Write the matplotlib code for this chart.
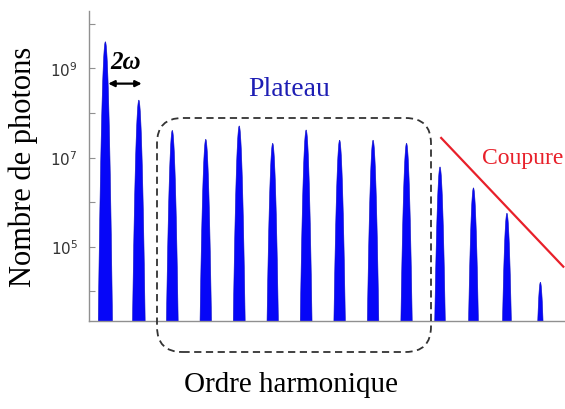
import numpy as np
import matplotlib
matplotlib.use("Agg")
import matplotlib.pyplot as plt
from matplotlib.patches import FancyBboxPatch

# Donnees : ordres harmoniques impairs et log10 du nombre de photons
ordres = [1, 3, 5, 7, 9, 11, 13, 15, 17, 19, 21, 23, 25, 27]
log_photons = [9.61, 8.30, 7.62, 7.42, 7.72, 7.33, 7.63, 7.40, 7.40, 7.33, 6.80, 6.33, 5.76, 4.21]
yticks_exp = [4, 5, 6, 7, 8, 9, 10]
yticks_labels = ['', r'$10^5$', '', r'$10^7$', '', r'$10^9$', '']

bleu = '#0606f8'
rouge = '#e8202a'

fig = plt.figure(figsize=(5.65, 4.1), dpi=100)
ax = fig.add_axes([0.1575, 0.2146, 0.8425, 0.7561])

ymin_exp, ymax_exp = 3.33, 10.29
sigma = 0.079
for o, h in zip(ordres, log_photons):
    x = np.linspace(o - 0.6, o + 0.6, 400)
    logy = h - (x - o) ** 2 / (2 * sigma ** 2 * np.log(10))
    y = 10 ** logy
    ax.fill_between(x, 10 ** ymin_exp, y, where=y > 10 ** ymin_exp,
                    facecolor=bleu, edgecolor='#1010c0', linewidth=0.4)

ax.set_yscale('log')
ax.set_ylim(10 ** ymin_exp, 10 ** ymax_exp)
ax.set_xlim(0.05, 28.5)

ax.set_yticks([10.0 ** e for e in yticks_exp])
ax.set_yticklabels(yticks_labels)
ax.yaxis.set_minor_locator(matplotlib.ticker.NullLocator())
ax.tick_params(axis='y', direction='in', length=4, color='#909090',
               labelcolor='#333333', labelsize=11, pad=8)
ax.set_xticks([])

for s in ['top', 'right']:
    ax.spines[s].set_visible(False)
for s in ['left', 'bottom']:
    ax.spines[s].set_color('#909090')
    ax.spines[s].set_linewidth(1.0)

# fleche 2 omega
ax.annotate('', xy=(1.2, 10 ** 8.66), xytext=(3.2, 10 ** 8.66),
            arrowprops=dict(arrowstyle='<|-|>', color='black', lw=1.6,
                            mutation_scale=9, shrinkA=0, shrinkB=0))
ax.text(2.25, 10 ** 9.15, '2ω', family='Liberation Serif', fontweight='bold',
        fontstyle='italic', fontsize=18, ha='center', va='center', color='black')

# plateau
ax.text(12.0, 10 ** 8.55, 'Plateau', family='Liberation Serif', fontsize=20,
        color='#1e1eb4', ha='center', va='center')
x0, y0 = 157 / 565, (410 - 353) / 410
x1, y1 = 431 / 565, (410 - 119) / 410
box = FancyBboxPatch((x0, y0), x1 - x0, y1 - y0,
                     boxstyle='round,pad=0,rounding_size=0.045',
                     mutation_aspect=565 / 410,
                     transform=fig.transFigure, fill=False,
                     edgecolor='#333333', linestyle=(0, (4, 2.5)), lw=1.3)
fig.patches.append(box)

# coupure
ax.plot([21.1, 28.4], [10 ** 7.44, 10 ** 4.55], color=rouge, lw=1.6, clip_on=False)
ax.text(26.0, 10 ** 7.0, 'Coupure', family='Liberation Serif', fontsize=17,
        color=rouge, ha='center', va='center')

fig.text(0.041, 0.593, 'Nombre de photons', family='Liberation Serif', fontsize=22,
         rotation=90, ha='center', va='center')
fig.text(0.515, 0.06, 'Ordre harmonique', family='Liberation Serif', fontsize=21,
         ha='center', va='center')

fig.savefig('out.png', dpi=100)
